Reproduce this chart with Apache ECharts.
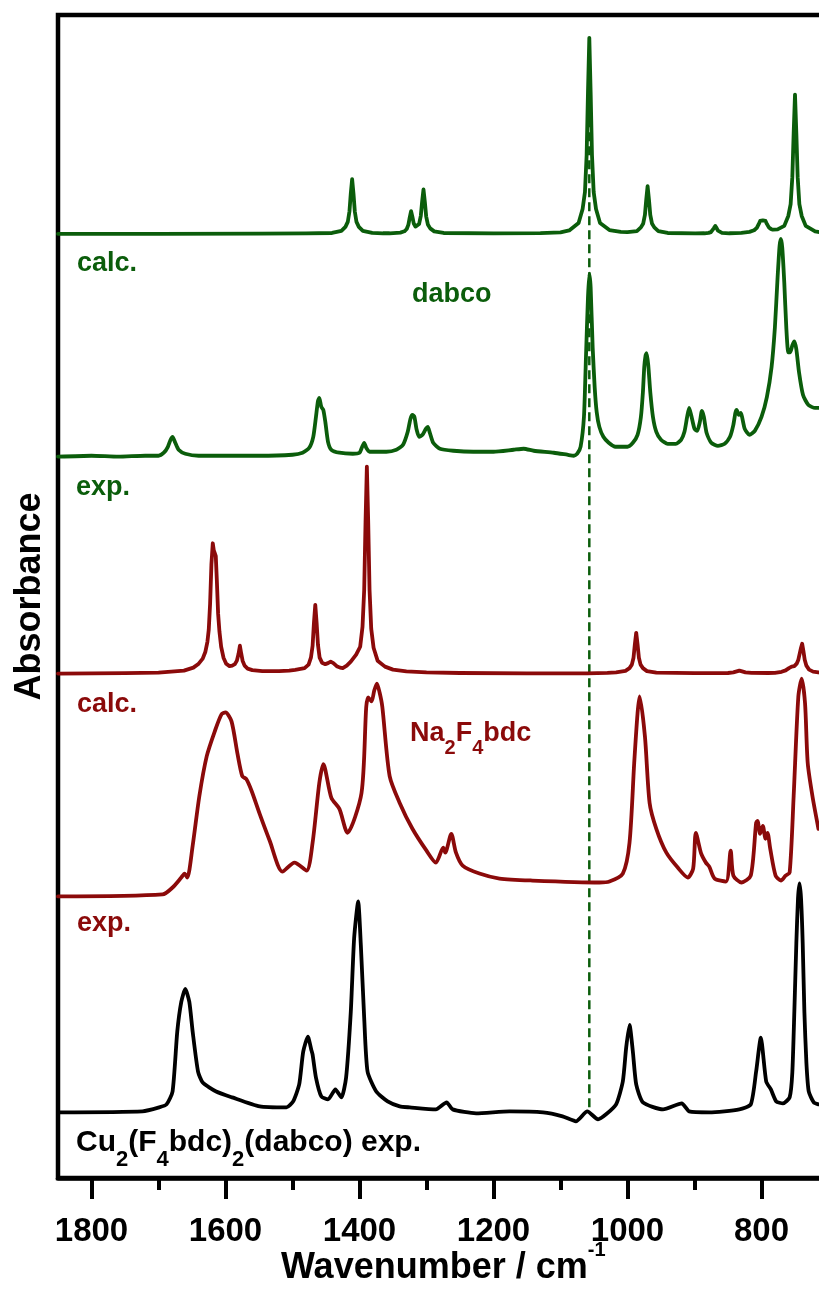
<!DOCTYPE html>
<html>
<head>
<meta charset="utf-8">
<script src="https://cdn.jsdelivr.net/npm/echarts@6/dist/echarts.min.js"></script>
<style>
  html, body { margin: 0; padding: 0; overflow: hidden; background: #ffffff; }
  #chart { width: 840px; height: 1291px; }
</style>
</head>
<body>
<div id="chart"></div>
<script>
// IR spectra: [wavenumber / cm-1, absorbance (arb. units, above the trace's own baseline)]
const dabcoCalc = [[1850,0],[1700,0],[1550,0.3],[1480,0.5],[1441,0.9],[1427,3],[1421,7],[1417.5,12],[1415,22.5],[1413,40.7],[1411,55],[1409,40.7],[1407,22.5],[1404.5,12],[1401,7],[1395,3],[1381,1],[1365,0.6],[1355,0.6],[1339,1.3],[1333,2.6],[1329.5,4.9],[1327,9.3],[1325,16.5],[1323,22.8],[1321,17.1],[1319,10.4],[1316.5,7.3],[1314,7],[1311,10],[1308.5,18.2],[1306.5,32.5],[1304.5,44.7],[1302.5,32.3],[1300.5,17.7],[1298,9.5],[1294.5,5.5],[1288.5,2.5],[1274.5,0.9],[1200,0.4],[1130,0.8],[1100,1.5],[1087,3.5],[1073,11],[1067,25],[1063.5,42],[1061,79],[1059,142],[1057,197],[1055,142],[1053,79],[1050.5,42],[1047,25],[1041,11],[1027,3.8],[1010,2],[1000,1.8],[986,2.8],[980,6.5],[976.5,10.5],[974,19],[972,34.6],[970,48],[968,34.6],[966,19],[963.5,10.5],[960,6.5],[954,2.8],[940,0.9],[899,0.4],[885,0.6],[879,1],[875.5,1.8],[873,3.2],[871,5.8],[869,8],[867,5.8],[865,3.2],[862.5,1.8],[859,1],[848,0.6],[830,1],[818,2],[811,3.6],[807,6],[804,10],[802,13],[800,14],[798,13.6],[796,14],[794,13],[792,10],[789,6.5],[786,5],[783,4.2],[776,4.5],[766,8],[760,18],[756.5,30],[754,57],[752,101],[750,140],[748,101],[746,57],[743.5,30],[740,18],[734,8],[720,2.5],[705,0.8]];

const dabcoExp = [[1850,0],[1800,1],[1760,0],[1720,1],[1700,1],[1692,4],[1686,10],[1682,17],[1679,20],[1675,14],[1670,7],[1660,3],[1640,1],[1600,1],[1550,1],[1500,2],[1485,4],[1475,9],[1469,20],[1465,40],[1462,56],[1460,59],[1457,50],[1454,47],[1451,35],[1447,15],[1442,7],[1430,4],[1410,3],[1400,4],[1396,10],[1393,14],[1390,9],[1385,5],[1360,5],[1345,7],[1335,12],[1328,25],[1324,38],[1321,42],[1318,40],[1315,28],[1311,20],[1306,22],[1301,28],[1298,30],[1295,24],[1290,14],[1280,8],[1260,6],[1230,5],[1200,5],[1170,7],[1155,8],[1140,6],[1110,4],[1090,2],[1080,1],[1075,3],[1070,10],[1065,40],[1062,100],[1059,160],[1057,184],[1055,170],[1052,110],[1049,70],[1046,45],[1042,30],[1036,20],[1028,14],[1018,10],[1000,10],[992,14],[985,22],[980,40],[977,65],[975,90],[973,102],[971.5,104],[969,92],[966,65],[962,40],[957,25],[950,17],[940,13],[928,13],[920,17],[915,25],[911,40],[908,49],[905,42],[900,28],[896,26],[892,35],[889,46],[886,40],[882,24],[875,14],[865,11],[855,13],[847,20],[842,32],[839,44],[837,47],[834,42],[831,44],[829,40],[825,28],[818,22],[810,26],[800,40],[792,60],[785,90],[780,130],[776,180],[773,212],[771,219],[769,210],[766,175],[763,130],[760,105],[757,105],[754,112],[751,116],[748,108],[744,85],[738,62],[730,52],[720,49],[714,49]];

const naCalc = [[1850,0],[1750,0.5],[1700,1],[1662,3],[1648,6],[1640,10],[1634,15],[1630,22],[1627,32],[1625,44],[1623,70],[1621,110],[1619,131],[1617.5,124],[1616,121],[1614.5,118],[1613,95],[1611,60],[1609,42],[1606.5,27],[1603,16],[1599,10],[1594,7.5],[1590,8],[1586,9.5],[1583,13],[1580.5,20],[1578.5,28],[1576.5,20],[1574.5,13],[1571.5,8],[1567,5],[1560,3.5],[1545,2.5],[1520,2.5],[1505,3],[1496,3.8],[1482,5.5],[1476,9],[1472.5,16],[1470,28],[1468,51],[1466,69],[1464,51],[1462,29],[1459.5,16],[1456,11],[1451,9.5],[1447,10.5],[1443,12],[1439,10.5],[1434,7.5],[1429,6],[1425,5.5],[1419,8],[1413,12],[1405,19],[1399,27],[1395.5,47],[1393,84],[1391,152],[1389,208],[1387,152],[1385,84],[1382.5,45],[1379,26],[1373,13],[1362,7],[1350,4],[1330,2.2],[1300,1.2],[1250,0.6],[1150,0.3],[1060,0.3],[1030,0.7],[1017,1.3],[1003,2.8],[997,5.5],[993.5,9],[991,16],[989,29.5],[987,41],[985,29.5],[983,16],[980.5,9],[977,5.5],[971,2.5],[957,1],[900,0.4],[850,0.6],[842,1.2],[837,2.2],[833,3],[829,2.2],[824,1.2],[815,0.7],[790,0.6],[780,0.8],[770,1.8],[764,3.2],[759,5.5],[755,7],[751,7.5],[747.5,10],[745,14],[743,20],[741,26],[739.3,30],[737.5,23],[735.5,14],[733,8],[729,4],[723,2],[710,0.8]];

const naExp = [[1850,0],[1694,2],[1679,9],[1666,19],[1661,23],[1657,19],[1649,51],[1639,101],[1628,141],[1616,166],[1606,183],[1600,185],[1591,176],[1582,143],[1575,121],[1569,118],[1561,106],[1549,83],[1534,56],[1515,25],[1497,34],[1479,26],[1470,54],[1460,114],[1454,133],[1442,99],[1430,88],[1418,64],[1397,104],[1390,190],[1387,200],[1382,196],[1378,207],[1374,214],[1370,205],[1366,191],[1355,121],[1340,94],[1321,68],[1300,46],[1286,34],[1275,49],[1272,44],[1263,63],[1256,44],[1246,31],[1221,23],[1191,18],[1142,16],[1042,14],[1027,15],[1007,23],[997,54],[990,134],[985,184],[982,201],[974,161],[967,94],[957,68],[942,44],[925,29],[910,19],[902,28],[898,64],[890,43],[883,34],[878,30],[870,18],[853,15],[846,46],[842,21],[830,14],[816,21],[808,74],[806,76],[802,63],[798,71],[794,58],[791,64],[787,48],[779,21],[771,16],[764,21],[758,24],[752,101],[745,201],[740,219],[735,194],[731,134],[724,101],[715,68]];

const cuExp = [[1850,0],[1724,1],[1699,5],[1688,8],[1679,21],[1672,81],[1666,111],[1660,124],[1654,111],[1649,81],[1641,41],[1634,30],[1614,21],[1590,15],[1549,6],[1509,5],[1499,11],[1490,28],[1484,61],[1477,76],[1472,63],[1470,58],[1465,35],[1457,16],[1447,13],[1436,23],[1427,15],[1420,35],[1413,101],[1408,175],[1402,212],[1398,168],[1393,95],[1388,41],[1375,21],[1358,11],[1340,6],[1325,5],[1286,3],[1270,10],[1261,3],[1226,-1],[1176,1],[1126,0],[1097,-4],[1077,-9],[1060,1],[1044,-7],[1032,-2],[1017,8],[1007,31],[1002,65],[997,88],[992,61],[987,28],[977,10],[947,3],[919,9],[908,1],[878,0],[833,3],[816,8],[808,41],[801,75],[793,31],[786,23],[778,11],[768,9],[758,15],[754,40],[751,101],[748,170],[745.5,215],[743.3,230],[741,215],[738.5,170],[736,101],[733,50],[729.5,21],[722,10],[715,8]];

// vertical stacking offsets of each trace (same units as absorbance)
const offsetDabcoCalc = 949;
const offsetDabcoExp = 725;
const offsetNaCalc = 507;
const offsetNaExp = 283;
const offsetCuExp = 66;

// 1057 cm-1 dabco band marker
const markerWavenumber = 1057;
const markerRange = [71, 1124];

// x axis ticks
const majorTicks = [800, 1000, 1200, 1400, 1600, 1800];
const minorTicks = [900, 1100, 1300, 1500, 1700];

const GREEN = '#0b5d0b';
const RED = '#8b0a0a';
const BLACK = '#000000';
const FONT = '"Liberation Sans", Arial, Helvetica, sans-serif';

function stacked(trace, offset) {
  return trace.map(([wn, a]) => [wn, a + offset]);
}

function traceSeries(name, trace, offset, color, smooth) {
  return {
    name: name,
    type: 'line',
    data: stacked(trace, offset),
    showSymbol: false,
    symbol: 'none',
    smooth: smooth,
    silent: true,
    animation: false,
    clip: true,
    lineStyle: { color: color, width: 3.8, join: 'round', cap: 'round' },
    z: 3
  };
}

function plainLabel(text, x, baseline, color, size) {
  return {
    type: 'text', x: x, y: baseline - 0.347 * size, silent: true, z: 10,
    style: { text: text, fill: color, fontSize: size, fontWeight: 'bold', fontFamily: FONT, verticalAlign: 'middle' }
  };
}

function subLabel(text, x, top, color, size, subSize, subDrop) {
  return {
    type: 'text', x: x, y: top, silent: true, z: 10,
    style: {
      text: text, verticalAlign: 'top',
      rich: {
        n: { fill: color, fontSize: size, fontWeight: 'bold', fontFamily: FONT, verticalAlign: 'top' },
        s: { fill: color, fontSize: subSize, fontWeight: 'bold', fontFamily: FONT, verticalAlign: 'top', padding: [subDrop, 0, 0, 0] }
      }
    }
  };
}

const chart = echarts.init(document.getElementById('chart'), null, { renderer: 'canvas' });

chart.setOption({
  animation: false,
  backgroundColor: '#ffffff',
  grid: {
    left: 58, top: 15, right: 11.5, bottom: 107,
    show: true, borderColor: BLACK, borderWidth: 4.5, backgroundColor: 'transparent',
    containLabel: false
  },
  xAxis: [{
    type: 'value', min: 700, max: 1850, inverse: true, position: 'bottom',
    axisLine: { show: true, onZero: false, lineStyle: { color: BLACK, width: 4.5 } },
    axisTick: { show: true, inside: false, length: 21, customValues: majorTicks, lineStyle: { color: BLACK, width: 4 } },
    axisLabel: {
      show: true, customValues: majorTicks, margin: 37, color: BLACK,
      fontSize: 33, fontWeight: 'bold', fontFamily: FONT,
      formatter: (v) => String(v)
    },
    splitLine: { show: false },
    name: '{a|Wavenumber / cm}{b|-1}',
    nameLocation: 'middle',
    nameGap: 62,
    nameMoveOverlap: false,
    nameTextStyle: {
      rich: {
        a: { color: BLACK, fontSize: 36, fontWeight: 'bold', fontFamily: FONT, verticalAlign: 'bottom' },
        b: { color: BLACK, fontSize: 20, fontWeight: 'bold', fontFamily: FONT, verticalAlign: 'bottom', padding: [0, 0, 26, 0] }
      }
    }
  }, {
    type: 'value', min: 700, max: 1850, inverse: true, position: 'bottom',
    axisLine: { show: false },
    axisTick: { show: true, inside: false, length: 12, customValues: minorTicks, lineStyle: { color: BLACK, width: 4 } },
    axisLabel: { show: false },
    splitLine: { show: false }
  }],
  yAxis: {
    type: 'value', min: 0, max: 1169,
    axisLine: { show: false },
    axisTick: { show: false },
    axisLabel: { show: false },
    splitLine: { show: false },
    name: 'Absorbance',
    nameLocation: 'middle',
    nameGap: 10,
    nameMoveOverlap: false,
    nameTextStyle: { color: BLACK, fontSize: 36, fontWeight: 'bold', fontFamily: FONT }
  },
  series: [
    {
      name: 'marker', type: 'line', silent: true, animation: false, showSymbol: false, symbol: 'none',
      data: [[markerWavenumber, markerRange[0]], [markerWavenumber, markerRange[1]]],
      lineStyle: { color: GREEN, width: 2.5, type: [9, 5] },
      z: 2
    },
    traceSeries('dabco calc.', dabcoCalc, offsetDabcoCalc, GREEN, false),
    traceSeries('dabco exp.', dabcoExp, offsetDabcoExp, GREEN, 0.2),
    traceSeries('Na2F4bdc calc.', naCalc, offsetNaCalc, RED, false),
    traceSeries('Na2F4bdc exp.', naExp, offsetNaExp, RED, 0.25),
    traceSeries('Cu2(F4bdc)2(dabco) exp.', cuExp, offsetCuExp, BLACK, 0.2)
  ],
  graphic: [
    plainLabel('calc.', 77, 273, GREEN, 27),
    plainLabel('dabco', 412, 304, GREEN, 27),
    plainLabel('exp.', 76, 497, GREEN, 27),
    plainLabel('calc.', 77, 714, RED, 27),
    subLabel('{n|Na}{s|2}{n|F}{s|4}{n|bdc}', 410, 720, RED, 27, 20, 18),
    plainLabel('exp.', 77, 933, RED, 27),
    subLabel('{n|Cu}{s|2}{n|(F}{s|4}{n|bdc)}{s|2}{n|(dabco) exp.}', 76, 1128, BLACK, 30, 22, 21)
  ]
});
</script>
</body>
</html>
